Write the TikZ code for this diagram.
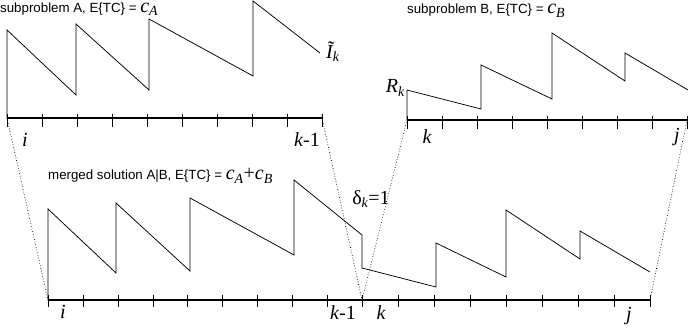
\documentclass[tikz,border=0pt]{standalone}
\usepackage{fontspec}
\setmainfont{Liberation Sans}
\newfontfamily\tms{Liberation Serif}
\usepackage{tikz}
\usetikzlibrary{positioning}

% italic Times-like labels
\newcommand{\tv}[1]{{\tms\itshape #1}}
\newcommand{\tsub}[1]{\textsubscript{\tms\itshape #1}}
\newcommand{\cost}[1]{{\fontsize{20}{20}\selectfont\tv{c}\tsub{#1}}}

\begin{document}
\begin{tikzpicture}[x=1pt, y=-1pt,
    axis/.style={line width=1.1pt},
    saw/.style={line width=0.75pt, line join=miter},
    guide/.style={dotted, line width=0.7pt},
    ttl/.style={font=\fontsize{13.3}{15}\selectfont, anchor=base west, inner sep=0pt},
    lbl/.style={font=\fontsize{20}{22}\selectfont\tms, inner sep=0pt}]
  \useasboundingbox (0,0) rectangle (688,331);

  % Axes with tick marks
  \coordinate (Ai) at (7,118);    \coordinate (Ak) at (322,118);
  \coordinate (Bk) at (407,120);  \coordinate (Bj) at (687,120);
  \coordinate (Mi) at (48,300);   \coordinate (Mk) at (362,300);
  \coordinate (Mj) at (650,300);
  \draw[axis] (Ai) -- (Ak);
  \draw[axis] (Bk) -- (Bj);
  \draw[axis] (Mi) -- (Mj);
  \foreach \n in {0,...,9} {
    \draw (7+\n*35,114) -- ++(0,13);
    \draw (48+\n*34.9,295) -- ++(0,12);
  }
  \foreach \n in {0,...,8} {
    \draw (407+\n*35,116) -- ++(0,13);
    \draw (362+\n*36,295) -- ++(0,12);
  }

  % Sawtooth curves
  \draw[saw] (7,118) -- (7,30) -- (76,95) -- (76,24) -- (149,90) -- (149,19)
    -- (253,76) -- (253,1) -- (320,53);
  \draw[saw] (407,120) -- (407,90) -- (481,109) -- (481,65) -- (552,99)
    -- (552,33) -- (625,81) -- (625,53) -- (688,90);
  \draw[saw] (48,300) -- (48,209) -- (116,273) -- (116,203) -- (190,271)
    -- (190,198) -- (294,255) -- (294,180) -- (362,235) -- (362,268)
    -- (436,287) -- (436,243) -- (506,277) -- (506,210) -- (580,259)
    -- (580,231) -- (650,272);

  % Mapping guides
  \draw[guide] (Ai) -- (Mi);
  \draw[guide] (Ak) -- (Mk);
  \draw[guide] (Bk) -- (Mk);
  \draw[guide] (Bj) -- (Mj);

  % Titles
  \node[ttl] (tA) at (0,12.5) {subproblem A, E\{TC\} = \cost{A}};
  \node[ttl] (tB) at (407,14) {subproblem B, E\{TC\} = \cost{B}};
  \node[ttl] (tM) at (48,180) {merged solution A|B, E\{TC\} = \cost{A}{\fontsize{20}{20}\selectfont\tms+}\cost{B}};

  % Axis and curve labels
  \node[lbl] (iA) at (25,140) {\tv{i}};
  \node[lbl] (kA) at (307,140) {\tv{k}-1};
  \node[lbl, anchor=west] (IA) at (326,52) {\tv{\~I}\tsub{k}};
  \node[lbl, anchor=east] (RB) at (405,88) {\tv{R}\tsub{k}};
  \node[lbl] (kB) at (427,137) {\tv{k}};
  \node[lbl] (jB) at (677,137) {\tv{j}};
  \node[lbl] (iM) at (63,312) {\tv{i}};
  \node[lbl] (kM) at (343,313) {\tv{k}-1};
  \node[lbl] (kkM) at (381,313) {\tv{k}};
  \node[lbl] (jM) at (629,316) {\tv{j}};
  \node[lbl] (dM) at (371,199) {δ\tsub{k}=1};
\end{tikzpicture}
\end{document}
